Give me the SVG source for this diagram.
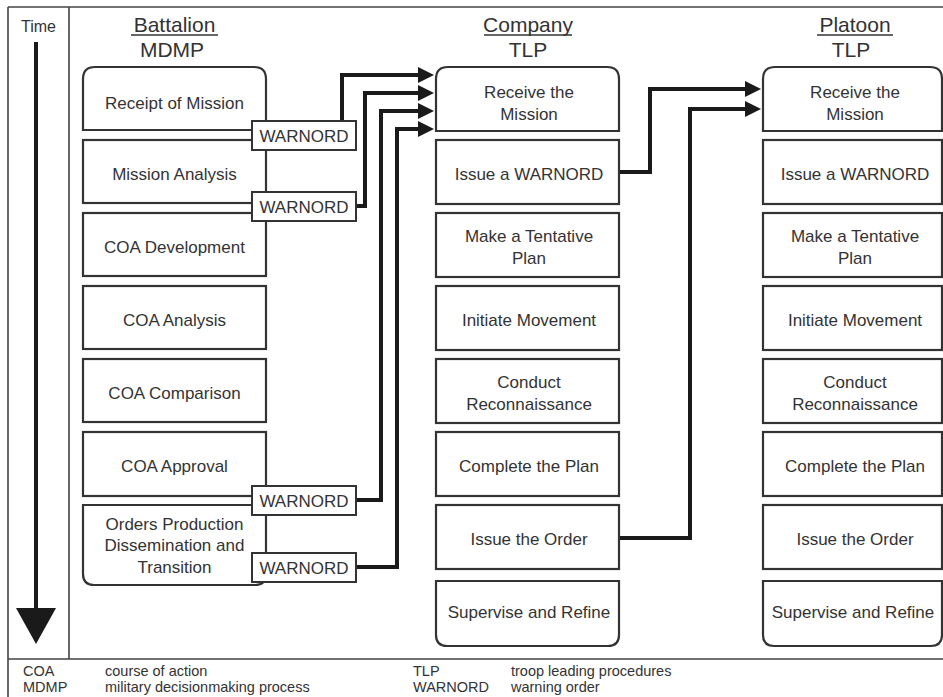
<svg xmlns="http://www.w3.org/2000/svg" width="943" height="697" viewBox="0 0 943 697">
<style>
text{font-family:"Liberation Sans",Arial,sans-serif;fill:#333}
.box{fill:#fff;stroke:#333;stroke-width:2.2}
.t{font-size:17px;text-anchor:middle}
.h{font-size:21px;text-anchor:middle}
.lg{font-size:14.5px}
.frame{stroke:#444;stroke-width:1.6;fill:none}
.conn{fill:none;stroke:#1a1a1a;stroke-width:4;stroke-linejoin:miter}
.wbox{fill:#fff;stroke:#333;stroke-width:2}
.ul{stroke:#333;stroke-width:1.5}
</style>
<defs>
<marker id="ah" markerWidth="16" markerHeight="16" viewBox="0 0 16 16" refX="2" refY="8" orient="auto" markerUnits="userSpaceOnUse">
<path d="M0,0 L16,8 L0,16 Z" fill="#1a1a1a"/>
</marker>
</defs>
<rect x="0" y="0" width="943" height="697" fill="#fff"/>
<g id="frame">
<path class="frame" d="M8,7 H943 M8,7 V697 M69,7 V659 M8,659 H943"/>
</g>
<g id="time">
<text x="38.5" y="32" style="font-size:16px;text-anchor:middle">Time</text>
<line x1="36" y1="42" x2="36" y2="612" stroke="#1a1a1a" stroke-width="4"/>
<path d="M16,608 L56,608 L36,644 Z" fill="#1a1a1a"/>
</g>
<g id="headers">
<text class="h" x="174.5" y="32">Battalion</text>
<line class="ul" x1="131" y1="35" x2="218" y2="35"/>
<text class="h" x="172" y="57">MDMP</text>
<text class="h" x="528" y="32">Company</text>
<line class="ul" x1="484" y1="35" x2="572" y2="35"/>
<text class="h" x="528" y="57">TLP</text>
<text class="h" x="855" y="32">Platoon</text>
<line class="ul" x1="817" y1="35" x2="893" y2="35"/>
<text class="h" x="851" y="57">TLP</text>
</g>
<g id="connectors">
<path class="conn" d="M342,121 V75 H420" marker-end="url(#ah)"/>
<path class="conn" d="M356,206 H365 V93 H420" marker-end="url(#ah)"/>
<path class="conn" d="M356,500 H381 V111 H420" marker-end="url(#ah)"/>
<path class="conn" d="M356,567 H397 V129 H420" marker-end="url(#ah)"/>
<path class="conn" d="M619,172 H650 V89 H747" marker-end="url(#ah)"/>
<path class="conn" d="M619,538 H690 V109 H747" marker-end="url(#ah)"/>
</g>
<g id="battalion">
<g id="b1"><path class="box" d="M83,130 V79 Q83,67 95,67 H254 Q266,67 266,79 V130 Z"/><text class="t" x="174.5" y="109">Receipt of Mission</text></g>
<g id="b2"><rect class="box" x="83" y="140" width="183" height="63"/><text class="t" x="174.5" y="180">Mission Analysis</text></g>
<g id="b3"><rect class="box" x="83" y="213" width="183" height="63"/><text class="t" x="174.5" y="253">COA Development</text></g>
<g id="b4"><rect class="box" x="83" y="286" width="183" height="63"/><text class="t" x="174.5" y="326">COA Analysis</text></g>
<g id="b5"><rect class="box" x="83" y="359" width="183" height="63"/><text class="t" x="174.5" y="399">COA Comparison</text></g>
<g id="b6"><rect class="box" x="83" y="432" width="183" height="64"/><text class="t" x="174.5" y="472">COA Approval</text></g>
<g id="b7"><path class="box" d="M83,505 H266 V574 Q266,585 255,585 H94 Q83,585 83,574 Z"/><text class="t" x="174.5" y="530">Orders Production</text><text class="t" x="174.5" y="551">Dissemination and</text><text class="t" x="174.5" y="573">Transition</text></g>
</g>
<g id="warnords">
<g id="w1"><rect class="wbox" x="252" y="121" width="104" height="29"/><text class="t" x="304" y="142">WARNORD</text></g>
<g id="w2"><rect class="wbox" x="252" y="192" width="104" height="29"/><text class="t" x="304" y="213">WARNORD</text></g>
<g id="w3"><rect class="wbox" x="252" y="486" width="104" height="29"/><text class="t" x="304" y="507">WARNORD</text></g>
<g id="w4"><rect class="wbox" x="252" y="553" width="104" height="29"/><text class="t" x="304" y="574">WARNORD</text></g>
</g>
<g id="company">
<g id="c1"><path class="box" d="M436,131 V79 Q436,67 448,67 H607 Q619,67 619,79 V131 Z"/><text class="t" x="529" y="98">Receive the</text><text class="t" x="529" y="120">Mission</text></g>
<g id="c2"><rect class="box" x="436" y="140" width="183" height="64"/><text class="t" x="529" y="180">Issue a WARNORD</text></g>
<g id="c3"><rect class="box" x="436" y="213" width="183" height="64"/><text class="t" x="529" y="242">Make a Tentative</text><text class="t" x="529" y="264">Plan</text></g>
<g id="c4"><rect class="box" x="436" y="286" width="183" height="64"/><text class="t" x="529" y="326">Initiate Movement</text></g>
<g id="c5"><rect class="box" x="436" y="359" width="183" height="64"/><text class="t" x="529" y="388">Conduct</text><text class="t" x="529" y="410">Reconnaissance</text></g>
<g id="c6"><rect class="box" x="436" y="432" width="183" height="64"/><text class="t" x="529" y="472">Complete the Plan</text></g>
<g id="c7"><rect class="box" x="436" y="505" width="183" height="64"/><text class="t" x="529" y="545">Issue the Order</text></g>
<g id="c8"><path class="box" d="M436,581 H619 V635 Q619,646 608,646 H447 Q436,646 436,635 Z"/><text class="t" x="529" y="618">Supervise and Refine</text></g>
</g>
<g id="platoon">
<g id="p1"><path class="box" d="M763,131 V79 Q763,67 775,67 H930 Q942,67 942,79 V131 Z"/><text class="t" x="855" y="98">Receive the</text><text class="t" x="855" y="120">Mission</text></g>
<g id="p2"><rect class="box" x="763" y="140" width="179" height="64"/><text class="t" x="855" y="180">Issue a WARNORD</text></g>
<g id="p3"><rect class="box" x="763" y="213" width="179" height="64"/><text class="t" x="855" y="242">Make a Tentative</text><text class="t" x="855" y="264">Plan</text></g>
<g id="p4"><rect class="box" x="763" y="286" width="179" height="64"/><text class="t" x="855" y="326">Initiate Movement</text></g>
<g id="p5"><rect class="box" x="763" y="359" width="179" height="64"/><text class="t" x="855" y="388">Conduct</text><text class="t" x="855" y="410">Reconnaissance</text></g>
<g id="p6"><rect class="box" x="763" y="432" width="179" height="64"/><text class="t" x="855" y="472">Complete the Plan</text></g>
<g id="p7"><rect class="box" x="763" y="505" width="179" height="64"/><text class="t" x="855" y="545">Issue the Order</text></g>
<g id="p8"><path class="box" d="M763,581 H942 V635 Q942,646 931,646 H774 Q763,646 763,635 Z"/><text class="t" x="853" y="618">Supervise and Refine</text></g>
</g>
<g id="legend">
<text class="lg" x="23" y="676">COA</text>
<text class="lg" x="105" y="676">course of action</text>
<text class="lg" x="413" y="676">TLP</text>
<text class="lg" x="511" y="676">troop leading procedures</text>
<text class="lg" x="23" y="692">MDMP</text>
<text class="lg" x="105" y="692">military decisionmaking process</text>
<text class="lg" x="413" y="692">WARNORD</text>
<text class="lg" x="511" y="692">warning order</text>
</g>
</svg>
